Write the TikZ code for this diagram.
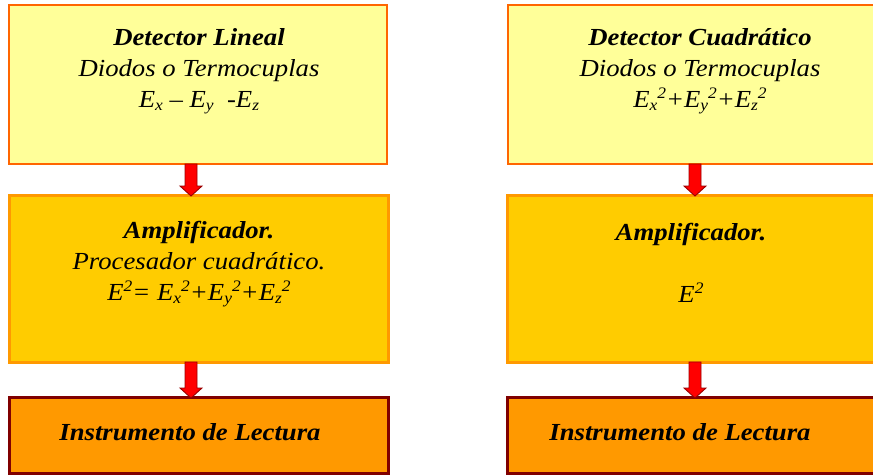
\documentclass[tikz,border=0pt]{standalone}
\usepackage{fontspec}
\setmainfont{Liberation Serif}[FakeStretch=1.09]
\usetikzlibrary{calc}
\definecolor{detfill}{HTML}{FFFF99}
\definecolor{detline}{HTML}{FF6600}
\definecolor{ampfill}{HTML}{FFCC00}
\definecolor{ampline}{HTML}{FF9900}
\definecolor{insfill}{HTML}{FF9900}
\definecolor{insline}{HTML}{800000}
\definecolor{arrfill}{HTML}{FF0000}
\definecolor{arrline}{HTML}{990000}
\newcommand\Sb[1]{\raisebox{-0.16em}{\fontsize{16}{16}\selectfont #1}}
\newcommand\Sp[1]{\raisebox{0.36em}{\fontsize{16}{16}\selectfont #1}}
\newcommand\Txt[1]{\parbox[t]{370pt}{\lineskiplimit=-20pt\centering #1}}
\tikzset{
  box/.style={draw, rectangle, inner sep=0pt, outer sep=0pt, anchor=north west},
  detbox/.style={box, fill=detfill, draw=detline, line width=2.4pt},
  ampbox/.style={box, fill=ampfill, draw=ampline, line width=3pt},
  insbox/.style={box, fill=insfill, draw=insline, line width=3pt},
  txt/.style={inner sep=0pt, outer sep=0pt, anchor=base, font=\fontsize{24.5}{31}\selectfont\itshape},
  blockarrow/.style={fill=arrfill, draw=arrline, line width=0.9pt, line join=miter,
    to path={let \p1=(\tikztostart), \p2=(\tikztotarget) in
      ({\x1-6pt},{\y1}) -- ({\x1+6pt},{\y1}) -- ({\x1+6pt},{\y2+10pt}) -- ({\x1+11pt},{\y2+10pt})
      -- ({\x1},{\y2}) -- ({\x1-11pt},{\y2+10pt}) -- ({\x1-6pt},{\y2+10pt}) -- cycle}}
}
\begin{document}
\begin{tikzpicture}[x=1pt, y=-1pt]
\clip (0,0) rectangle (873,475);
\fill[white] (0,0) rectangle (873,475);
% left column
\node[detbox, minimum width=378pt, minimum height=159pt] (d1) at (9,5) {};
\node[ampbox, minimum width=379pt, minimum height=167pt] (a1) at (9,195) {};
\node[insbox, minimum width=379pt, minimum height=76pt] (i1) at (9,397) {};
% right column
\node[detbox, minimum width=384pt, minimum height=159pt] (d2) at (508,5) {};
\node[ampbox, minimum width=384pt, minimum height=167pt] (a2) at (507,195) {};
\node[insbox, minimum width=384pt, minimum height=76pt] (i2) at (507,397) {};
% texts
\node[txt] (td1) at (199,45) {\Txt{\textbf{Detector Lineal}\\ Diodos o Termocuplas\\ E\Sb{x} – E\Sb{y}\ \ -E\Sb{z}}};
\node[txt] (ta1) at (199,238) {\Txt{\textbf{Amplificador.}\\ Procesador cuadrático.\\ E\Sp{2}= E\Sb{x}\Sp{2}+E\Sb{y}\Sp{2}+E\Sb{z}\Sp{2}}};
\node[txt] (ti1) at (190,440) {\Txt{\textbf{Instrumento de Lectura}}};
\node[txt] (td2) at (700,45) {\Txt{\textbf{Detector Cuadrático}\\ Diodos o Termocuplas\\ E\Sb{x}\Sp{2}+E\Sb{y}\Sp{2}+E\Sb{z}\Sp{2}}};
\node[txt] (ta2) at (691,240) {\Txt{\textbf{Amplificador.}\\[31pt] E\Sp{2}}};
\node[txt] (ti2) at (680,440) {\Txt{\textbf{Instrumento de Lectura}}};
% arrows
\coordinate (cl) at (191,0);
\coordinate (cr) at (695,0);
\draw[blockarrow] (d1.south -| cl) to ([yshift=-1pt]a1.north -| cl);
\draw[blockarrow] (a1.south -| cl) to ([yshift=-1pt]i1.north -| cl);
\draw[blockarrow] (d2.south -| cr) to ([yshift=-1pt]a2.north -| cr);
\draw[blockarrow] (a2.south -| cr) to ([yshift=-1pt]i2.north -| cr);
\end{tikzpicture}
\end{document}
